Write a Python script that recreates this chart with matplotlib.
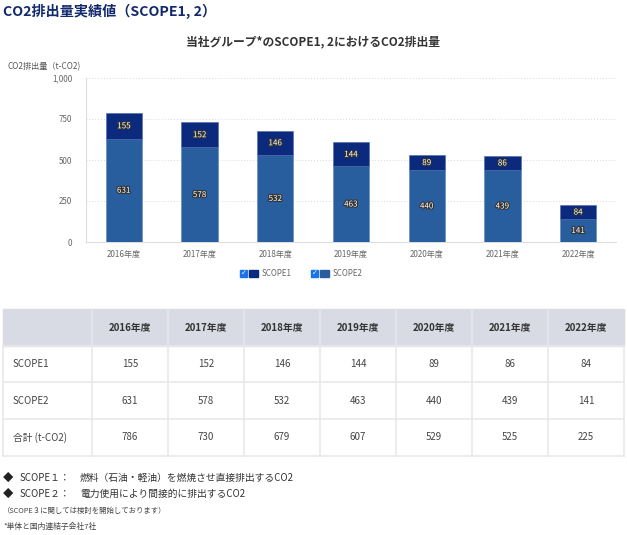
import matplotlib
matplotlib.use("Agg")
import matplotlib.pyplot as plt
from matplotlib.patches import Rectangle
import matplotlib.patheffects as pe

plt.rcParams['font.family'] = ['Noto Sans CJK JP', 'DejaVu Sans']

years = ["2016年度", "2017年度", "2018年度", "2019年度", "2020年度", "2021年度", "2022年度"]
scope1 = [155, 152, 146, 144, 89, 86, 84]
scope2 = [631, 578, 532, 463, 440, 439, 141]
totals = [786, 730, 679, 607, 529, 525, 225]
yticks = [0, 250, 500, 750, 1000]
ytick_labels = ["0", "250", "500", "750", "1,000"]
row_labels = ["SCOPE1", "SCOPE2", "合計 (t-CO2)"]

C1 = "#0b2a7e"
C2 = "#285d9e"
W, H = 627, 535

fig = plt.figure(figsize=(W / 100, H / 100), dpi=100)

# overlay axes in pixel coords
ov = fig.add_axes([0, 0, 1, 1])
ov.set_xlim(0, W)
ov.set_ylim(H, 0)
ov.axis("off")

# chart axes
L, R, T, B = 86, 616, 78, 242
ax = fig.add_axes([L / W, (H - B) / H, (R - L) / W, (B - T) / H])
x = list(range(len(years)))
ax.bar(x, scope2, width=0.48, color=C2, edgecolor="#5b86bd", linewidth=0.4, zorder=3)
ax.bar(x, scope1, width=0.48, bottom=scope2, color=C1, edgecolor="#4a6aa8", linewidth=0.4, zorder=3)
ax.set_xlim(-0.5, len(years) - 0.5)
ax.set_ylim(0, 1000)
ax.set_yticks(yticks)
ax.set_yticklabels(ytick_labels)
ax.set_xticks(x)
ax.set_xticklabels(years)
ax.tick_params(axis="both", length=0, labelsize=5.8, colors="#666666", pad=6)
ax.tick_params(axis="y", pad=10)
for s in ["top", "right"]:
    ax.spines[s].set_visible(False)
for s in ["left", "bottom"]:
    ax.spines[s].set_color("#dddddd")
    ax.spines[s].set_linewidth(0.8)
ax.grid(axis="y", color="#d9d9d9", linestyle=(0, (1, 2)), linewidth=0.7, zorder=0)
ax.set_axisbelow(True)

stroke = [pe.withStroke(linewidth=1.6, foreground="#333333")]
for i in x:
    ax.text(i, scope2[i] / 2, str(scope2[i]), ha="center", va="center", fontsize=5.8,
            color="white", path_effects=stroke, zorder=5)
    ax.text(i, scope2[i] + scope1[i] / 2, str(scope1[i]), ha="center", va="center", fontsize=5.8,
            color="white", path_effects=stroke, zorder=5)

# titles
ov.text(3, 11, "CO2排出量実績値（SCOPE1, 2）", fontsize=10.2, fontweight="bold",
        color="#12296e", ha="left", va="center")
ov.text(313, 42, "当社グループ*のSCOPE1, 2におけるCO2排出量", fontsize=8.5, fontweight="bold",
        color="#333333", ha="center", va="center")
ov.text(8, 67, "CO2排出量（t-CO2)", fontsize=5.9, color="#555555", ha="left", va="center")

# legend
for cx, col, lab in [(240, C1, "SCOPE1"), (311, C2, "SCOPE2")]:
    ov.add_patch(Rectangle((cx, 269.5), 7, 7, color="#1a73e8"))
    ov.text(cx + 3.5, 273, "✓", fontsize=5, color="white", ha="center", va="center",
            fontweight="bold", family="DejaVu Sans")
    ov.add_patch(Rectangle((cx + 9, 269.5), 8.5, 7, color=col))
    ov.text(cx + 22, 273, lab, fontsize=5.8, color="#666666", ha="left", va="center")

# table
tx0, tx1 = 3, 624
col0w = 89
cw = (tx1 - tx0 - col0w) / len(years)
rows_y = [309, 346, 382, 419, 456]
ov.add_patch(Rectangle((tx0, rows_y[0]), tx1 - tx0, rows_y[1] - rows_y[0], color="#d8dbe3", zorder=1))
lc = "#e9e9e9"
for yy in rows_y[1:]:
    ov.plot([tx0, tx1], [yy, yy], color=lc, lw=1.2, zorder=2)
for xx in (tx0, tx1):
    ov.plot([xx, xx], [rows_y[1], rows_y[-1]], color=lc, lw=1.2, zorder=2)
xs = [tx0 + col0w + k * cw for k in range(len(years))]
for xx in xs:
    ov.plot([xx, xx], [rows_y[1], rows_y[-1]], color=lc, lw=1.2, zorder=2)
    ov.plot([xx, xx], [rows_y[0], rows_y[1]], color="#e4e6ec", lw=1.2, zorder=2)
for k, yr in enumerate(years):
    ov.text(xs[k] + cw / 2, (rows_y[0] + rows_y[1]) / 2, yr, fontsize=7, fontweight="bold",
            color="#333333", ha="center", va="center", zorder=3)
table_rows = [scope1, scope2, totals]
for r, (lab, vals) in enumerate(zip(row_labels, table_rows)):
    yc = (rows_y[r + 1] + rows_y[r + 2]) / 2
    ov.text(13, yc, lab, fontsize=7, color="#444444", ha="left", va="center", zorder=3)
    for k, v in enumerate(vals):
        ov.text(xs[k] + cw / 2, yc, str(v), fontsize=7, color="#444444", ha="center",
                va="center", zorder=3)

# footnotes
ov.text(3, 478, "◆", fontsize=7.5, color="#222222", ha="left", va="center")
ov.text(20, 478, "SCOPE１：", fontsize=7, color="#333333", ha="left", va="center")
ov.text(80, 478, "燃料（石油・軽油）を燃焼させ直接排出するCO2", fontsize=7, color="#333333",
        ha="left", va="center")
ov.text(3, 494, "◆", fontsize=7.5, color="#222222", ha="left", va="center")
ov.text(20, 494, "SCOPE２：", fontsize=7, color="#333333", ha="left", va="center")
ov.text(80, 494, "電力使用により間接的に排出するCO2", fontsize=7, color="#333333",
        ha="left", va="center")
ov.text(3, 511, "（SCOPE３に関しては検討を開始しております）", fontsize=5.3, color="#444444",
        ha="left", va="center")
ov.text(3, 527, "*単体と国内連結子会社7社", fontsize=5.6, color="#444444", ha="left", va="center")

fig.savefig("out.png", dpi=100)
